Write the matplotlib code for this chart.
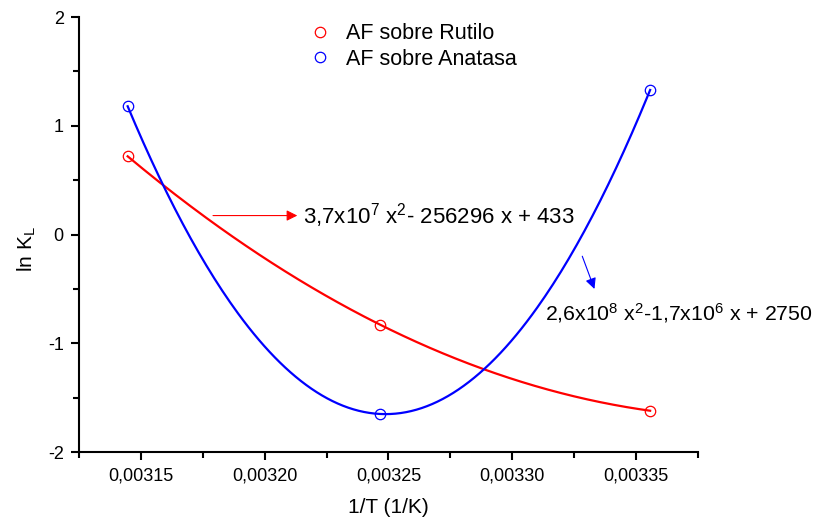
import numpy as np
import matplotlib
matplotlib.use("Agg")
import matplotlib.pyplot as plt
from matplotlib.ticker import MultipleLocator, FuncFormatter

plt.rcParams["font.family"] = ["Liberation Sans", "DejaVu Sans"]
plt.rcParams["mathtext.fontset"] = "custom"
plt.rcParams["mathtext.rm"] = "Liberation Sans"
plt.rcParams["mathtext.it"] = "Liberation Sans"

# data: 1/T for T = 318, 308, 298 K
inv_t = [1 / 318.0, 1 / 308.0, 1 / 298.0]
ln_k_rutilo = [0.72, -0.83, -1.62]
ln_k_anatasa = [1.18, -1.65, 1.33]

label_rutilo = "AF sobre Rutilo"
label_anatasa = "AF sobre Anatasa"
eq_rutilo = r"3,7x10$^7$ x$^2$- 256296 x + 433"
eq_anatasa = r"2,6x10$^8$ x$^2$-1,7x10$^6$ x + 2750"

fig = plt.figure(figsize=(8.23, 5.19), dpi=100)
ax = fig.add_axes([0.096, 0.129, 0.752, 0.838])

xs = np.linspace(min(inv_t), max(inv_t), 200)
for yv, col, lab in [(ln_k_rutilo, "red", label_rutilo), (ln_k_anatasa, "blue", label_anatasa)]:
    coef = np.polyfit(inv_t, yv, 2)
    ax.plot(xs, np.polyval(coef, xs), color=col, lw=1.6)
    ax.plot(inv_t, yv, "o", mfc="none", mec=col, ms=7.5, mew=0.9, label=lab, ls="none")

ax.set_xlim(0.003125, 0.003375)
ax.set_ylim(-2, 2)
ax.xaxis.set_major_locator(MultipleLocator(0.00005))
ax.xaxis.set_minor_locator(MultipleLocator(0.000025))
ax.yaxis.set_major_locator(MultipleLocator(1))
ax.yaxis.set_minor_locator(MultipleLocator(0.5))
ax.xaxis.set_major_formatter(FuncFormatter(lambda v, p: f"{v:.5f}".replace(".", ",")))
ax.yaxis.set_major_formatter(FuncFormatter(lambda v, p: f"{v:.0f}".replace("\u2212", "-")))

for s in ["top", "right"]:
    ax.spines[s].set_visible(False)
for s in ["left", "bottom"]:
    ax.spines[s].set_linewidth(1.5)
ax.tick_params(which="both", direction="out", width=1.5, labelsize=13)
ax.tick_params(which="major", length=6, pad=5)
ax.tick_params(which="minor", length=4)

ax.set_xlabel("1/T (1/K)", fontsize=15, labelpad=10)
ax.set_ylabel(r"ln K$_\mathrm{L}$", fontsize=15)
ax.yaxis.set_label_coords(-0.066, 0.467)

ax.legend(loc="upper left", bbox_to_anchor=(0.34, 1.03), frameon=False,
          fontsize=15.5, handletextpad=0.75, labelspacing=0.2, handlelength=1.0)

ax.annotate("", xy=(0.0032143, 0.175), xytext=(0.003178, 0.175),
            arrowprops=dict(arrowstyle="-|>", color="red", lw=0.8, mutation_scale=16))
ax.text(0.0032155, 0.175, eq_rutilo, fontsize=16, va="center", ha="left")

ax.annotate("", xy=(0.0033336, -0.524), xytext=(0.0033279, -0.175),
            arrowprops=dict(arrowstyle="-|>", color="blue", lw=0.8, mutation_scale=16))
ax.text(0.0033134, -0.72, eq_anatasa, fontsize=15.3, va="center", ha="left")

fig.savefig("out.png", dpi=100)
